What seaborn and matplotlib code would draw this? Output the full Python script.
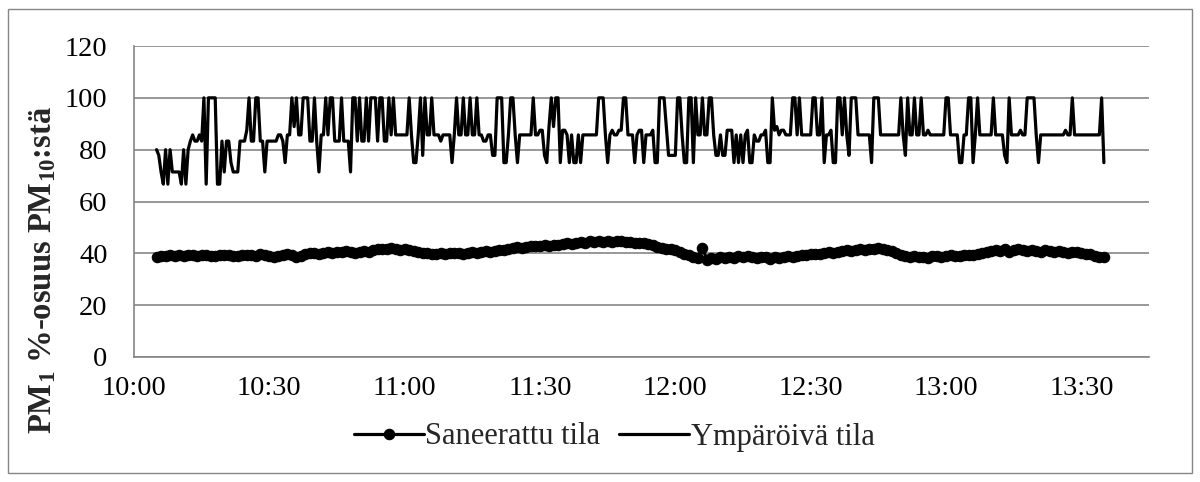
import matplotlib
matplotlib.use("Agg")
import matplotlib.pyplot as plt
import matplotlib.dates as mdates
from matplotlib.patches import Rectangle
import pandas as pd
import seaborn as sns

# Ympäröivä tila: PM1:n %-osuus PM10:stä, 30 s välein 10:05–13:35
ymp_1005 = [80, 77.8, 71.4, 66.7, 80, 66.7, 80, 71.4, 71.4, 71.4,
            71.4, 66.7, 80, 66.7, 80, 83.3, 85.7, 83.3, 83.3, 85.7,
            83.3, 100, 66.7, 100, 100, 100, 100, 66.7, 66.7, 83.3,
            71.4, 83.3, 83.3, 75, 71.4, 71.4, 71.4, 83.3, 83.3, 83.3,
            87.5, 100, 83.3, 83.3, 100, 100, 83.3, 83.3, 71.4, 83.3]
ymp_1030 = [83.3, 83.3, 83.3, 83.3, 85.7, 85.7, 83.3, 75, 85.7, 85.7,
            100, 88.9, 100, 85.7, 85.7, 100, 100, 100, 83.3, 83.3,
            100, 83.3, 71.4, 85.7, 85.7, 100, 85.7, 100, 100, 83.3,
            83.3, 83.3, 100, 83.3, 83.3, 83.3, 71.4, 100, 100, 83.3,
            100, 83.3, 83.3, 100, 83.3, 100, 100, 100, 83.3, 100,
            100, 83.3, 83.3, 100, 85.7, 100, 85.7, 85.7, 85.7, 85.7]
ymp_1100 = [85.7, 85.7, 100, 85.7, 75, 75, 85.7, 100, 77.8, 100,
            85.7, 85.7, 100, 85.7, 85.7, 85.7, 83.3, 85.7, 85.7, 85.7,
            85.7, 75, 85.7, 100, 85.7, 85.7, 100, 85.7, 85.7, 100,
            85.7, 85.7, 100, 85.7, 85.7, 83.3, 83.3, 85.7, 85.7, 77.8,
            77.8, 100, 100, 100, 75, 75, 85.7, 100, 100, 85.7,
            75, 85.7, 85.7, 85.7, 85.7, 85.7, 85.7, 100, 85.7, 85.7]
ymp_1130 = [87.5, 87.5, 77.8, 75, 88.9, 100, 88.9, 100, 100, 75,
            87.5, 87.5, 85.7, 75, 85.7, 75, 75, 85.7, 75, 85.7,
            85.7, 85.7, 85.7, 85.7, 85.7, 85.7, 100, 100, 100, 85.7,
            75, 85.7, 87.5, 85.7, 85.7, 87.5, 87.5, 100, 100, 85.7,
            85.7, 85.7, 75, 85.7, 87.5, 87.5, 75, 85.7, 85.7, 85.7,
            87.5, 75, 75, 100, 100, 100, 88.9, 77.8, 77.8, 77.8]
ymp_1200 = [77.8, 100, 100, 85.7, 75, 75, 100, 100, 75, 100,
            85.7, 85.7, 100, 85.7, 85.7, 100, 100, 85.7, 77.8, 77.8,
            85.7, 77.8, 77.8, 87.5, 87.5, 87.5, 75, 85.7, 75, 85.7,
            75, 85.7, 87.5, 75, 75, 85.7, 83.3, 83.3, 85.7, 85.7,
            87.5, 75, 75, 100, 87.5, 88.9, 85.7, 87.5, 87.5, 85.7,
            85.7, 85.7, 100, 100, 85.7, 100, 85.7, 85.7, 85.7, 85.7]
ymp_1230 = [85.7, 100, 100, 85.7, 85.7, 100, 75, 85.7, 85.7, 87.5,
            75, 75, 100, 100, 85.7, 100, 85.7, 77.8, 100, 100,
            100, 85.7, 85.7, 85.7, 85.7, 85.7, 85.7, 75, 100, 100,
            100, 85.7, 85.7, 85.7, 85.7, 85.7, 85.7, 85.7, 85.7, 85.7,
            100, 85.7, 77.8, 100, 85.7, 85.7, 100, 85.7, 85.7, 100,
            85.7, 85.7, 87.5, 85.7, 85.7, 85.7, 85.7, 85.7, 85.7, 85.7]
ymp_1300 = [100, 100, 85.7, 85.7, 85.7, 85.7, 75, 75, 85.7, 85.7,
            100, 100, 75, 85.7, 100, 85.7, 85.7, 85.7, 85.7, 85.7,
            85.7, 100, 85.7, 85.7, 85.7, 85.7, 77.8, 75, 100, 85.7,
            85.7, 85.7, 85.7, 87.5, 85.7, 85.7, 100, 100, 100, 100,
            85.7, 75, 85.7, 85.7, 85.7, 85.7, 85.7, 85.7, 85.7, 85.7,
            85.7, 85.7, 85.7, 87.5, 85.7, 85.7, 100, 85.7, 85.7, 85.7,
            85.7, 85.7, 85.7, 85.7, 85.7, 85.7, 85.7, 85.7, 85.7, 100,
            75]
ymparoiva = ymp_1005 + ymp_1030 + ymp_1100 + ymp_1130 + ymp_1200 + ymp_1230 + ymp_1300

# Saneerattu tila: PM1:n %-osuus PM10:stä, 1 min välein 10:05–13:35
san_1005 = [38.7, 39.0, 38.9, 39.2, 39.0, 39.3, 39.1, 39.4, 39.2, 39.0,
            39.3, 39.5, 39.1, 38.8, 39.2, 39.5, 39.3, 39.0, 38.8, 39.2,
            39.5, 39.4, 39.1, 39.6, 39.3]
san_1030 = [39.0, 38.6, 39.1, 39.4, 39.6, 39.2, 38.4, 38.9, 39.6, 40.0,
            40.2, 39.9, 40.3, 40.5, 40.2, 40.6, 40.4, 40.8, 40.5, 40.2,
            40.6, 40.9, 40.7, 41.2, 41.6, 41.8, 41.5, 41.9, 41.7, 41.4]
san_1100 = [41.6, 41.2, 40.9, 40.6, 40.3, 40.1, 39.8, 39.7, 40.0, 39.8,
            40.1, 40.3, 40.0, 39.9, 40.2, 40.4, 40.2, 40.6, 40.9, 40.7,
            41.0, 41.3, 41.1, 41.5, 41.9, 42.3, 42.1, 42.6, 42.9, 42.7]
san_1130 = [43.0, 43.3, 43.0, 43.4, 43.2, 43.5, 43.8, 43.6, 44.0, 44.3,
            44.1, 44.6, 44.4, 44.8, 44.5, 44.7, 44.4, 44.8, 44.6, 44.3,
            44.5, 44.1, 43.8, 43.9, 43.5, 43.1, 42.6, 42.2, 41.8, 41.5]
san_1200 = [41.1, 40.4, 39.8, 39.2, 38.7, 38.3, 42.2, 37.6, 38.2, 37.9,
            38.4, 38.1, 38.6, 38.3, 38.8, 38.5, 38.9, 38.6, 38.2, 38.7,
            38.4, 38.0, 38.5, 38.2, 38.6, 38.9, 38.6, 39.1, 39.4, 39.2]
san_1230 = [39.6, 39.9, 39.7, 40.1, 40.4, 40.2, 40.6, 40.9, 41.2, 40.8,
            41.3, 41.6, 41.3, 41.8, 41.5, 41.9, 41.6, 41.2, 40.8, 40.3,
            39.5, 38.8, 38.5, 38.9, 38.4, 38.7, 38.3, 38.8, 39.1, 38.7]
san_1300 = [39.0, 39.3, 39.0, 38.8, 39.2, 39.5, 39.2, 39.7, 40.0, 40.4,
            40.9, 41.3, 41.0, 41.5, 40.6, 41.1, 41.5, 41.2, 40.8, 41.3,
            41.0, 40.7, 41.1, 40.8, 40.5, 40.9, 40.6, 40.3, 40.7, 40.4,
            40.1, 39.9, 39.6, 39.1, 38.6, 38.4]
saneerattu = san_1005 + san_1030 + san_1100 + san_1130 + san_1200 + san_1230 + san_1300

y_ticks = [0, 20, 40, 60, 80, 100, 120]
x_start, x_end = "10:00", "13:45"
series_names = ["Saneerattu tila", "Ympäröivä tila"]
day = "2012-03-01"

start = pd.Timestamp(f"{day} 10:05")
df_ymp = pd.DataFrame({"aika": pd.date_range(start, periods=len(ymparoiva), freq="30s"),
                       "osuus": ymparoiva})
df_san = pd.DataFrame({"aika": pd.date_range(start, periods=len(saneerattu), freq="1min"),
                       "osuus": saneerattu})

sns.set_theme(style="white")
plt.rcParams["font.family"] = ["Liberation Serif", "DejaVu Serif"]
plt.rcParams["mathtext.fontset"] = "custom"
plt.rcParams["mathtext.rm"] = "Liberation Serif"
plt.rcParams["mathtext.it"] = "Liberation Serif:italic"
plt.rcParams["mathtext.bf"] = "Liberation Serif:bold"

grey = "#868686"
W, H = 1200, 482
fig = plt.figure(figsize=(W / 100, H / 100), dpi=100)
fig.patch.set_facecolor("white")

left, right, top, bottom = 134, 1149, 46, 357
ax = fig.add_axes([left / W, 1 - bottom / H, (right - left) / W, (bottom - top) / H])

sns.lineplot(data=df_san, x="aika", y="osuus", ax=ax, color="black", linewidth=2.3,
             marker="o", markersize=7.5, markeredgecolor="black", markeredgewidth=0.8,
             label=series_names[0], zorder=3)
sns.lineplot(data=df_ymp, x="aika", y="osuus", ax=ax, color="black", linewidth=2.3,
             label=series_names[1], zorder=3)

ax.set_ylim(y_ticks[0], y_ticks[-1])
ax.set_yticks(y_ticks)
ax.set_xlim(pd.Timestamp(f"{day} {x_start}"), pd.Timestamp(f"{day} {x_end}"))
ax.xaxis.set_major_locator(mdates.MinuteLocator(byminute=[0, 30]))
ax.xaxis.set_major_formatter(mdates.DateFormatter("%H:%M"))

ax.yaxis.grid(True, color=grey, linewidth=1.2)
ax.xaxis.grid(False)
ax.set_axisbelow(True)
for side in ("top", "right"):
    ax.spines[side].set_visible(False)
for side in ("left", "bottom"):
    ax.spines[side].set_color(grey)
    ax.spines[side].set_linewidth(1.2)

ax.tick_params(axis="both", which="major", direction="out", length=6, width=1.2,
               color=grey, labelsize=20.5, labelcolor="black")
ax.tick_params(axis="y", pad=13)
ax.tick_params(axis="x", pad=8)
ax.set_xlabel("")
ax.set_ylabel("")

fig.text(43 / W, 1 - 270 / H, r"PM$_\mathbf{1}$ %-osuus PM$_\mathbf{10}$:stä",
         rotation=90, ha="center", va="center", fontsize=23.5, fontweight="bold")

handles, labels = ax.get_legend_handles_labels()
ax.get_legend().remove()
fig.legend(handles, labels, loc="center", bbox_to_anchor=(614 / W, 1 - 437 / H),
           ncol=2, frameon=False, fontsize=22, handlelength=2.3, handletextpad=0.05,
           columnspacing=0.6)

fig.patches.append(Rectangle((8 / W, 9 / H), (W - 16) / W, (H - 18) / H,
                             transform=fig.transFigure, fill=False,
                             edgecolor=grey, linewidth=1.0))

fig.savefig("out.png", dpi=100, facecolor="white")
